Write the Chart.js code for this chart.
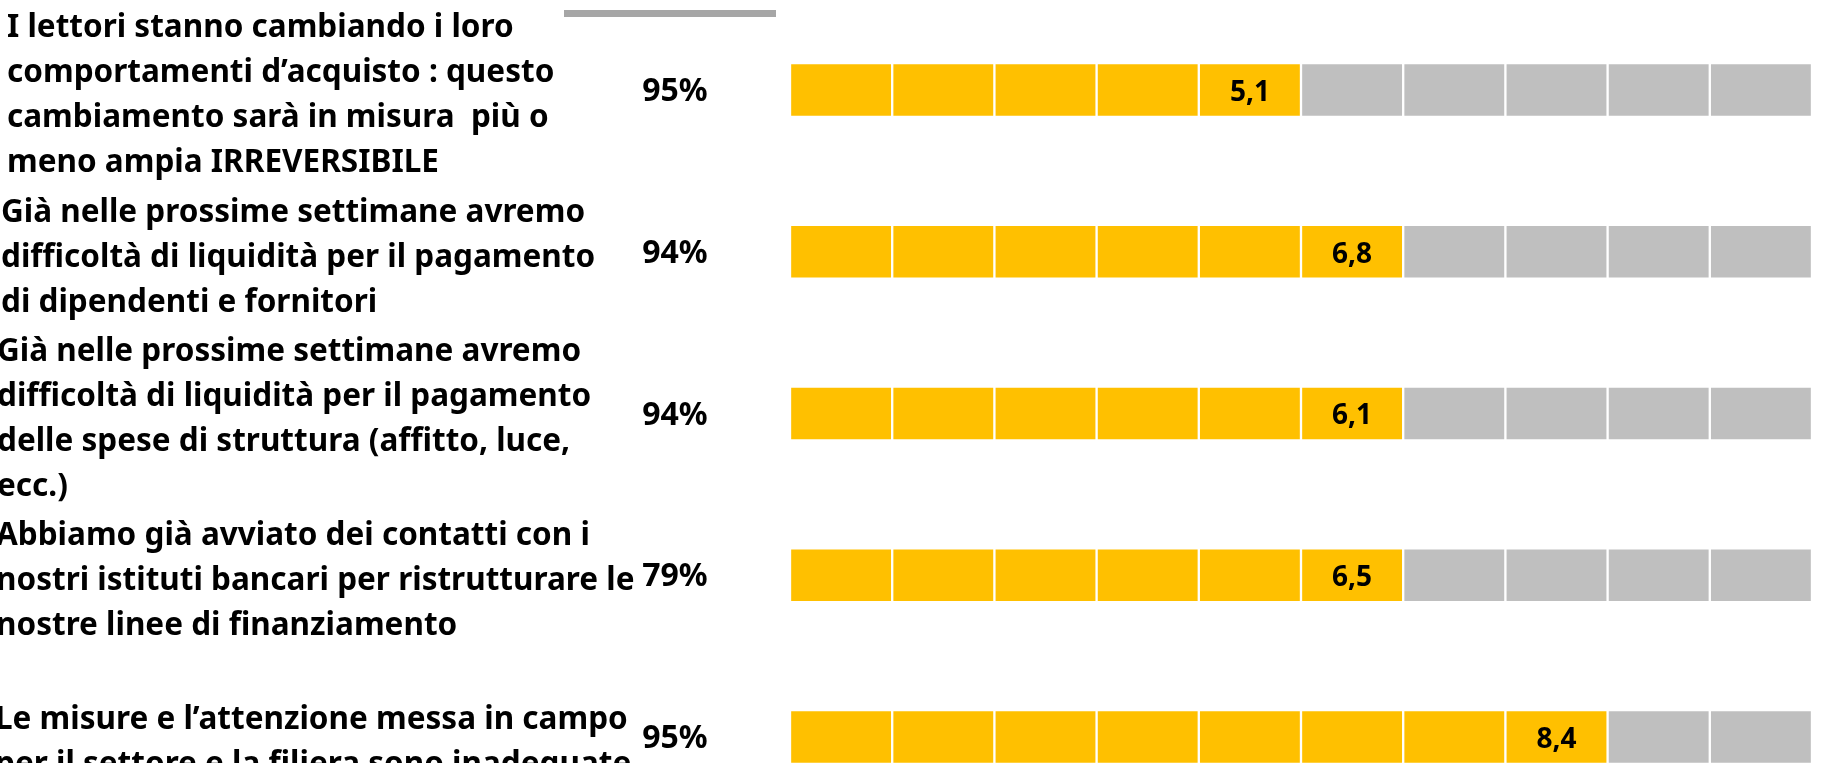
<!DOCTYPE html>
<html>
<head>
<meta charset="utf-8">
<script src="https://cdn.jsdelivr.net/npm/chart.js@4/dist/chart.umd.min.js"></script>
<style>
  body { margin: 0; background: #fff; }
</style>
</head>
<body>
<canvas id="squares" width="1835" height="763"></canvas>
<script>
const categories = [
  ["I lettori stanno cambiando i loro", "comportamenti d’acquisto : questo", "cambiamento sarà in misura  più o", "meno ampia IRREVERSIBILE"],
  ["Già nelle prossime settimane avremo", "difficoltà di liquidità per il pagamento", "di dipendenti e fornitori"],
  ["Già nelle prossime settimane avremo", "difficoltà di liquidità per il pagamento", "delle spese di struttura (affitto, luce,", "ecc.)"],
  ["Abbiamo già avviato dei contatti con i", "nostri istituti bancari per ristrutturare le", "nostre linee di finanziamento"],
  ["Le misure e l’attenzione messa in campo", "per il settore e la filiera sono inadeguate"]
];
const shares = [95, 94, 94, 79, 95];
const scores = [5.1, 6.8, 6.1, 6.5, 8.4];
const squares = 10;

const YELLOW = "#FFC000";
const GREY = "#BFBFBF";
const FONT = "'Noto Sans', sans-serif";
// text boxes in the original are not quite aligned
const labelLeft = [7, 1, -3, -4, -5];

// one stacked dataset per square, coloured by the row's score
const datasets = [];
for (let k = 0; k < squares; k++) {
  datasets.push({
    data: scores.map(() => 1),
    backgroundColor: scores.map(s => (k < Math.floor(s) ? YELLOW : GREY)),
    borderColor: "#ffffff",
    borderWidth: 1.5,
    borderSkipped: false,
    barThickness: 54,
    clip: false,
  });
}

const textPlugin = {
  id: "texts",
  afterDatasetsDraw(chart) {
    const ctx = chart.ctx;
    const y = chart.scales.y;
    ctx.save();

    // grey rule at top
    ctx.fillStyle = "#A6A6A6";
    ctx.fillRect(564, 10, 212, 7);

    ctx.fillStyle = "#000";
    ctx.textBaseline = "middle";
    categories.forEach((lines, i) => {
      const cy = y.getPixelForValue(i);
      const lh = 45;
      ctx.font = "bold 31.5px " + FONT;
      ctx.textAlign = "left";
      const top = cy + 6 - (lines.length - 1) * lh / 2;
      lines.forEach((t, n) => ctx.fillText(t, labelLeft[i], top + n * lh));

      ctx.font = "bold 32px " + FONT;
      ctx.textAlign = "center";
      ctx.fillText(shares[i] + "%", 675, cy + 2);

      // score in the last yellow square
      const k = Math.floor(scores[i]) - 1;
      const el = chart.getDatasetMeta(k).data[i];
      ctx.font = "bold 28px " + FONT;
      ctx.fillText(String(scores[i]).replace(".", ","), (el.x + el.base) / 2, el.y + 3);
    });
    ctx.restore();
  }
};

const chart = new Chart(document.getElementById("squares").getContext("2d"), {
  type: "bar",
  data: {
    labels: categories.map((c, i) => "r" + i),
    datasets: datasets,
  },
  options: {
    indexAxis: "y",
    responsive: false,
    animation: false,
    layout: { padding: { left: 790, right: 23, top: 90, bottom: 26 } },
    scales: {
      x: { min: 0, max: squares, stacked: true, display: false },
      y: { stacked: true, display: false, offset: false },
    },
    plugins: {
      legend: { display: false },
      tooltip: { enabled: false },
    },
  },
  plugins: [textPlugin],
});
</script>
</body>
</html>
